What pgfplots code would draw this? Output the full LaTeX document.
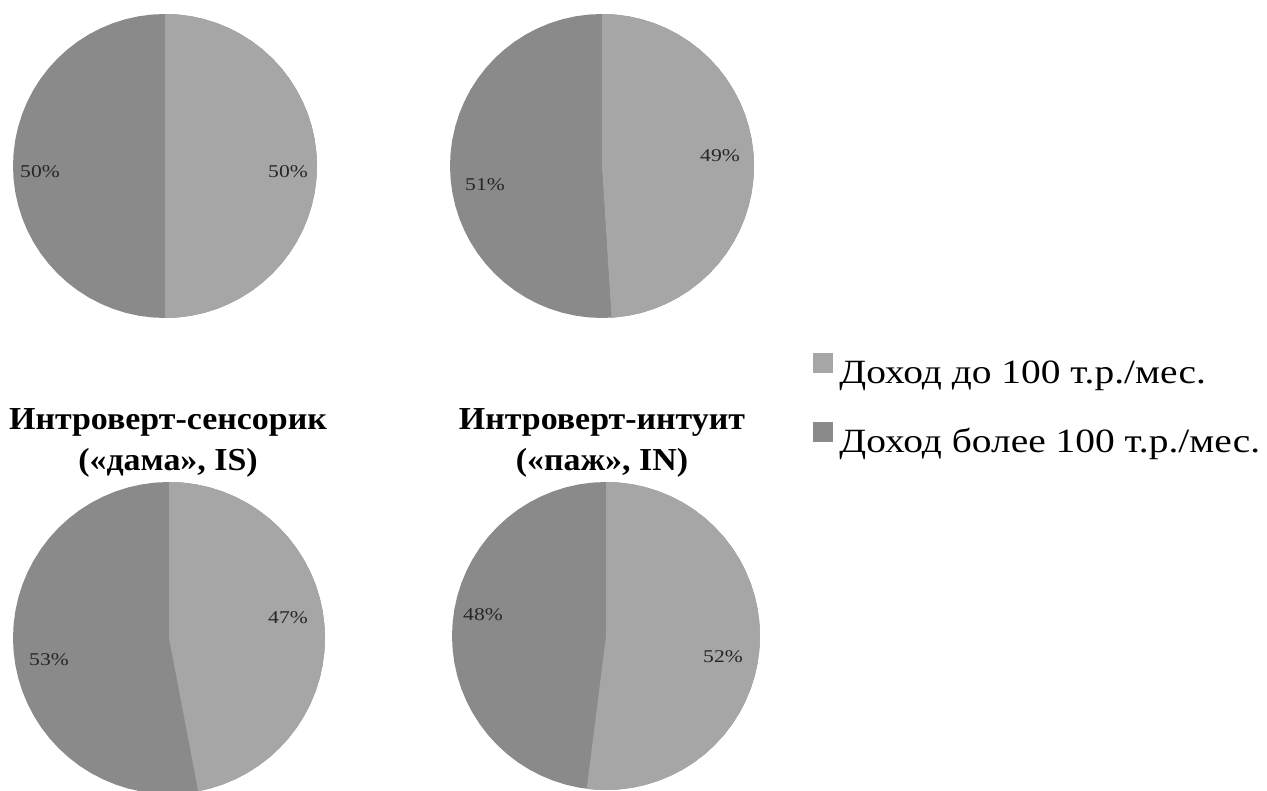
\documentclass[border=0pt]{standalone}
\usepackage{fontspec}
\setmainfont{Liberation Serif}
\newfontfamily\pctfont[FakeStretch=1.2]{Liberation Serif}
\newfontfamily\legfont[FakeStretch=1.16]{Liberation Serif}
\newfontfamily\ttlfont[FakeStretch=1.06]{Liberation Serif}
\usepackage{pgfplots}
\usepgfplotslibrary{polar}
\pgfplotsset{compat=1.18}

\definecolor{lightc}{RGB}{166,166,166}
\definecolor{darkc}{RGB}{138,138,138}

% full disc (radius 1) in polar coordinates: angle, radius
\pgfplotstableread[row sep=\\]{
a r\\
0 1\\ 5 1\\ 10 1\\ 15 1\\ 20 1\\ 25 1\\ 30 1\\ 35 1\\ 40 1\\ 45 1\\ 50 1\\ 55 1\\
60 1\\ 65 1\\ 70 1\\ 75 1\\ 80 1\\ 85 1\\ 90 1\\ 95 1\\ 100 1\\ 105 1\\ 110 1\\ 115 1\\
120 1\\ 125 1\\ 130 1\\ 135 1\\ 140 1\\ 145 1\\ 150 1\\ 155 1\\ 160 1\\ 165 1\\ 170 1\\ 175 1\\
180 1\\ 185 1\\ 190 1\\ 195 1\\ 200 1\\ 205 1\\ 210 1\\ 215 1\\ 220 1\\ 225 1\\ 230 1\\ 235 1\\
240 1\\ 245 1\\ 250 1\\ 255 1\\ 260 1\\ 265 1\\ 270 1\\ 275 1\\ 280 1\\ 285 1\\ 290 1\\ 295 1\\
300 1\\ 305 1\\ 310 1\\ 315 1\\ 320 1\\ 325 1\\ 330 1\\ 335 1\\ 340 1\\ 345 1\\ 350 1\\ 355 1\\
360 1\\
}\disc

\pgfplotsset{
  pie/.style={hide axis, scale only axis, ymin=0, ymax=1, anchor=origin, clip=false},
}

\begin{document}
\begin{tikzpicture}
\useasboundingbox (0,0) rectangle (633.5pt,395.5pt);

% pie 1: 50% / 50%
\begin{polaraxis}[pie, width=152pt, height=152pt, at={(82.5pt,312.5pt)}]
\addplot[fill=darkc, draw=none] table[x=a, y=r] {\disc} -- cycle;
\addplot[fill=lightc, draw=none] coordinates {
(0,0) (90,1) (85,1) (80,1) (75,1) (70,1) (65,1) (60,1) (55,1) (50,1) (45,1)
(40,1) (35,1) (30,1) (25,1) (20,1) (15,1) (10,1) (5,1) (0,1) (-5,1) (-10,1)
(-15,1) (-20,1) (-25,1) (-30,1) (-35,1) (-40,1) (-45,1) (-50,1) (-55,1) (-60,1)
(-65,1) (-70,1) (-75,1) (-80,1) (-85,1) (-90,1)
} -- cycle;
\end{polaraxis}

% pie 2: 49% / 51%
\begin{polaraxis}[pie, width=152pt, height=152pt, at={(301pt,312.5pt)}]
\addplot[fill=darkc, draw=none] table[x=a, y=r] {\disc} -- cycle;
\addplot[fill=lightc, draw=none] coordinates {
(0,0) (90,1) (85,1) (80,1) (75,1) (70,1) (65,1) (60,1) (55,1) (50,1) (45,1)
(40,1) (35,1) (30,1) (25,1) (20,1) (15,1) (10,1) (5,1) (0,1) (-5,1) (-10,1)
(-15,1) (-20,1) (-25,1) (-30,1) (-35,1) (-40,1) (-45,1) (-50,1) (-55,1) (-60,1)
(-65,1) (-70,1) (-75,1) (-80,1) (-85,1) (-86.4,1)
} -- cycle;
\end{polaraxis}

% pie 3: 47% / 53%
\begin{polaraxis}[pie, width=156pt, height=156pt, at={(84.5pt,76.5pt)}]
\addplot[fill=darkc, draw=none] table[x=a, y=r] {\disc} -- cycle;
\addplot[fill=lightc, draw=none] coordinates {
(0,0) (90,1) (85,1) (80,1) (75,1) (70,1) (65,1) (60,1) (55,1) (50,1) (45,1)
(40,1) (35,1) (30,1) (25,1) (20,1) (15,1) (10,1) (5,1) (0,1) (-5,1) (-10,1)
(-15,1) (-20,1) (-25,1) (-30,1) (-35,1) (-40,1) (-45,1) (-50,1) (-55,1) (-60,1)
(-65,1) (-70,1) (-75,1) (-79.2,1)
} -- cycle;
\end{polaraxis}

% pie 4: 52% / 48%
\begin{polaraxis}[pie, width=154pt, height=154pt, at={(303pt,77.5pt)}]
\addplot[fill=darkc, draw=none] table[x=a, y=r] {\disc} -- cycle;
\addplot[fill=lightc, draw=none] coordinates {
(0,0) (90,1) (85,1) (80,1) (75,1) (70,1) (65,1) (60,1) (55,1) (50,1) (45,1)
(40,1) (35,1) (30,1) (25,1) (20,1) (15,1) (10,1) (5,1) (0,1) (-5,1) (-10,1)
(-15,1) (-20,1) (-25,1) (-30,1) (-35,1) (-40,1) (-45,1) (-50,1) (-55,1) (-60,1)
(-65,1) (-70,1) (-75,1) (-80,1) (-85,1) (-90,1) (-95,1) (-97.2,1)
} -- cycle;
\end{polaraxis}

% frame axis in pixel units for labels, titles and legend
\begin{axis}[
  hide axis, scale only axis, width=633.5pt, height=395.5pt,
  at={(0,0)}, anchor=south west,
  xmin=0, xmax=1267, ymin=0, ymax=791, y dir=reverse, clip=false,
  legend style={at={(0.6363,0.486)}, anchor=west, draw=none, fill=none,
    font=\legfont\fontsize{17}{20}\selectfont,
    nodes={inner sep=0pt, text height=12pt, text depth=4pt},
    row sep=15.5pt,
    /tikz/every odd column/.append style={column sep=3.5pt}},
  legend cell align=left,
]
\addlegendimage{legend image code/.code={\fill[lightc] (0pt,1.5pt) rectangle (9.5pt,11pt);}}
\addlegendentry{Доход до 100 т.р./мес.}
\addlegendimage{legend image code/.code={\fill[darkc] (0pt,1.5pt) rectangle (9.5pt,11pt);}}
\addlegendentry{Доход более 100 т.р./мес.}

\tikzset{pct/.style={font=\pctfont\fontsize{9}{11}\selectfont, text=black!85, inner sep=0pt}}
\node[pct] at (axis cs:40,172) {50\%};
\node[pct] at (axis cs:288,172) {50\%};
\node[pct] at (axis cs:485,185) {51\%};
\node[pct] at (axis cs:720,156) {49\%};
\node[pct] at (axis cs:288,618) {47\%};
\node[pct] at (axis cs:49,660) {53\%};
\node[pct] at (axis cs:483,615) {48\%};
\node[pct] at (axis cs:723,657) {52\%};

\tikzset{ttl/.style={font=\ttlfont\bfseries\fontsize{16}{19}\selectfont, anchor=base, inner sep=0pt}}
\node[ttl] at (axis cs:168,429) {Интроверт-сенсорик};
\node[ttl] at (axis cs:168,470) {(«дама», IS)};
\node[ttl] at (axis cs:602,429) {Интроверт-интуит};
\node[ttl] at (axis cs:602,470) {(«паж», IN)};
\end{axis}
\end{tikzpicture}
\end{document}
